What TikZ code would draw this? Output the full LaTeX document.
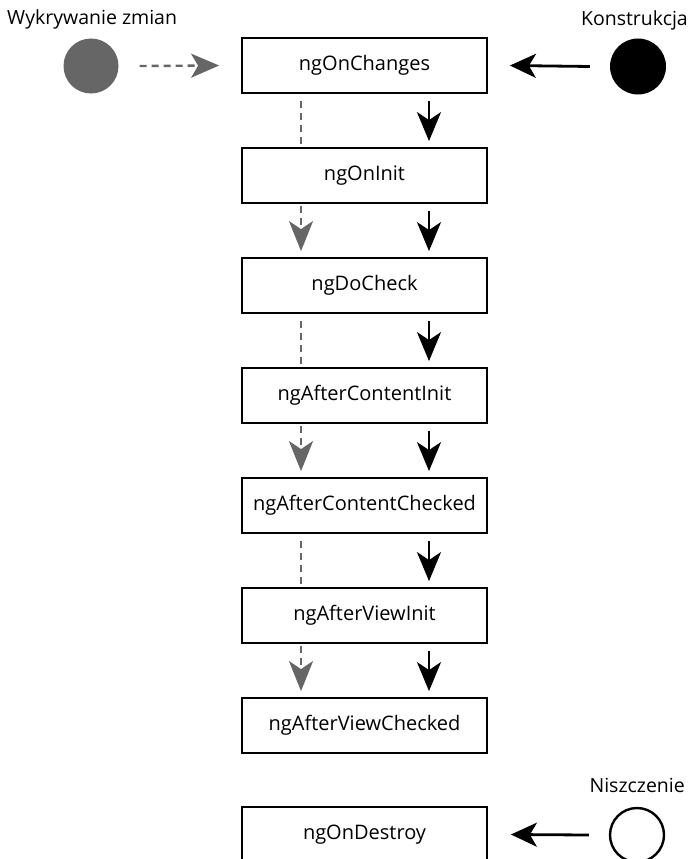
\documentclass[tikz,border=0pt]{standalone}
\usepackage{fontspec}
\setmainfont{Open Sans}
\usetikzlibrary{arrows.meta}
\definecolor{cgray}{HTML}{666666}
\begin{document}
\begin{tikzpicture}[x=1pt,y=-1pt,
  hook/.style={draw=black, line width=1.8pt, minimum width=245pt, minimum height=55pt, inner sep=0pt, font=\fontsize{20}{22}\selectfont},
  lbl/.style={inner sep=0pt, font=\fontsize{19.5}{22}\selectfont},
  blk/.style={draw=black, line width=2.6pt, -{Stealth[length=29pt,width=24pt,inset=8pt]}},
  blkh/.style={draw=black, line width=2.8pt, -{Stealth[length=26pt,width=24pt,inset=7pt]}},
  gdash/.style={draw=cgray, line width=2.4pt, dash pattern=on 7pt off 5pt},
  garr/.style={gdash, -{Stealth[length=30pt,width=24pt,inset=8pt]}},
  garrh/.style={gdash, -{Stealth[length=28pt,width=24pt,inset=7pt]}},
]
\useasboundingbox (0,0) rectangle (689,859);
\node[hook] (b1) at (364.5,65.5) {ngOnChanges};
\node[hook] (b2) at (364.5,175.5) {ngOnInit};
\node[hook] (b3) at (364.5,285.5) {ngDoCheck};
\node[hook] (b4) at (364.5,395.5) {ngAfterContentInit};
\node[hook] (b5) at (364.5,505.5) {ngAfterContentChecked};
\node[hook] (b6) at (364.5,615.5) {ngAfterViewInit};
\node[hook] (b7) at (364.5,725.5) {ngAfterViewChecked};
\node[hook] (b8) at (364.5,834.5) {ngOnDestroy};

\node[circle, fill=cgray, minimum size=55pt, inner sep=0pt] (c1) at (91,66) {};
\node[circle, fill=black, minimum size=56pt, inner sep=0pt] (c2) at (638,66.5) {};
\node[circle, draw=black, line width=2.4pt, minimum size=54pt, inner sep=0pt] (c3) at (637,835) {};

\node[lbl, anchor=base west] (l1) at (7,25) {Wykrywanie zmian};
\node[lbl, anchor=base east] (l2) at (688,26) {Konstrukcja};
\node[lbl, anchor=base east] (l3) at (685,792) {Niszczenie};

% horizontal arrows
\draw[garrh] ([xshift=21pt]c1.east) -- ([xshift=-22pt]b1.west);
\draw[blkh] ([xshift=-20pt]c2.west) -- ([xshift=22pt]b1.east);
\draw[blkh] ([xshift=-20pt]c3.west) -- ([xshift=23pt]b8.east);

% black vertical arrows
\foreach \a/\b in {b1/b2,b2/b3,b3/b4,b4/b5,b5/b6,b6/b7}{
  \draw[blk] ([xshift=64.5pt,yshift=-7pt]\a.south) -- ([xshift=64.5pt,yshift=6pt]\b.north);
}
% gray vertical
\draw[gdash] ([xshift=-63.5pt,yshift=-7pt]b1.south) -- ([xshift=-63.5pt]b2.north);
\draw[garr] ([xshift=-63.5pt,yshift=-2pt]b2.south) -- ([xshift=-63.5pt,yshift=6pt]b3.north);
\draw[gdash] ([xshift=-63.5pt,yshift=-7pt]b3.south) -- ([xshift=-63.5pt]b4.north);
\draw[garr] ([xshift=-63.5pt,yshift=-2pt]b4.south) -- ([xshift=-63.5pt,yshift=6pt]b5.north);
\draw[gdash] ([xshift=-63.5pt,yshift=-7pt]b5.south) -- ([xshift=-63.5pt]b6.north);
\draw[garr] ([xshift=-63.5pt,yshift=-2pt]b6.south) -- ([xshift=-63.5pt,yshift=6pt]b7.north);
\end{tikzpicture}
\end{document}
